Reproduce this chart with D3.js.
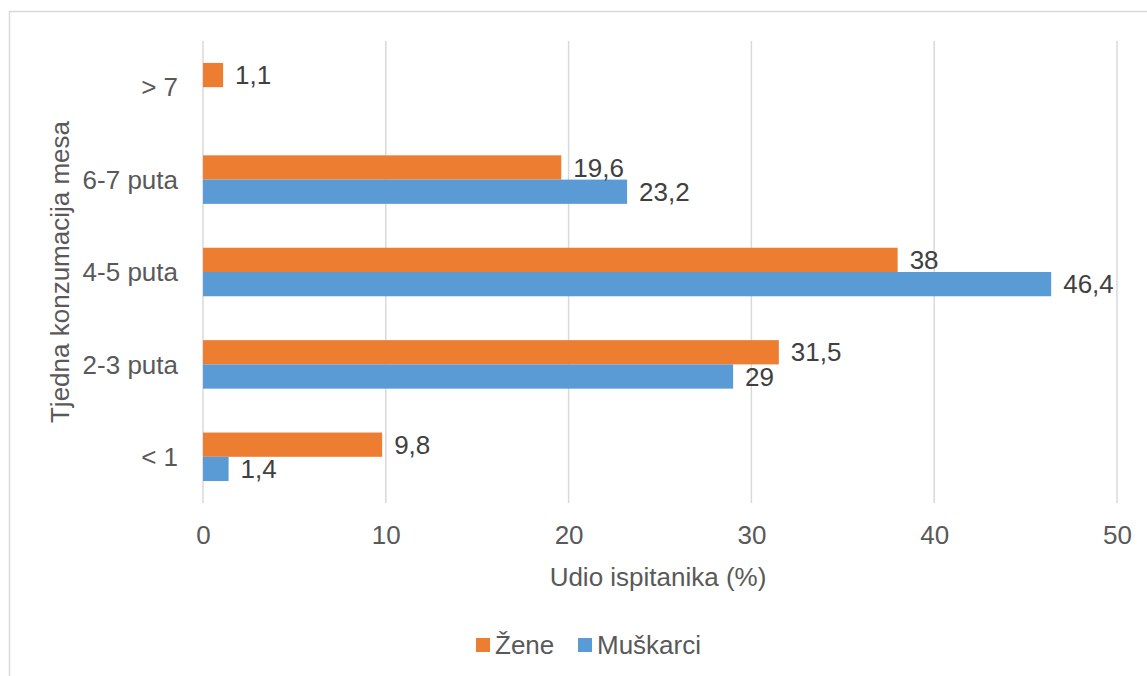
<!DOCTYPE html>
<html><head><meta charset="utf-8">
<script src="https://cdn.jsdelivr.net/npm/d3@7"></script>
<style>body{margin:0;background:#fff;}svg{display:block;font-family:"Liberation Sans",Arial,sans-serif;}</style>
</head><body>
<svg id="c" width="1147" height="676"></svg>
<script>
const categories = ["> 7", "6-7 puta", "4-5 puta", "2-3 puta", "< 1"];
const zene = [1.1, 19.6, 38, 31.5, 9.8];
const muskarci = [null, 23.2, 46.4, 29, 1.4];
const seriesNames = ["Žene", "Muškarci"];
const seriesColors = ["#ED7D31", "#5B9BD5"];
const xTicks = [0, 10, 20, 30, 40, 50];
const xTitle = "Udio ispitanika (%)";
const yTitle = "Tjedna konzumacija mesa";

const svg = d3.select("#c");
const FS = 26;
svg.append("rect").attr("x", 9.5).attr("y", 11.5).attr("width", 1160).attr("height", 700)
  .attr("fill", "#fff").attr("stroke", "#D9D9D9").attr("stroke-width", 1.5);

const L = 203, R = 1117, T = 41, B = 503;
const x = d3.scaleLinear().domain([0, 50]).range([L, R]);
const y = d3.scaleBand().domain(categories).range([T, B]).paddingInner(0.475).paddingOuter(0.2375);
const sub = d3.scaleBand().domain(seriesNames).range([0, y.bandwidth()]);

// gridlines
svg.append("g").selectAll("line").data(xTicks).join("line")
  .attr("x1", d => x(d)).attr("x2", d => x(d)).attr("y1", T).attr("y2", B)
  .attr("stroke", "#D9D9D9").attr("stroke-width", 1.5);

// x tick labels
const xAxis = d3.axisBottom(x).tickValues(xTicks).tickSize(0).tickPadding(0).tickFormat(d => d);
const gx = svg.append("g").attr("transform", `translate(0,${B})`).call(xAxis);
gx.select(".domain").remove();
gx.selectAll("text").attr("font-size", FS).attr("fill", "#595959").attr("dy", null)
  .attr("y", 34).attr("dominant-baseline", "middle").attr("font-family", "Liberation Sans, Arial, sans-serif");

// y axis labels
const yAxis = d3.axisLeft(y).tickSize(0).tickPadding(0);
const gy = svg.append("g").attr("transform", `translate(${178},0)`).call(yAxis);
gy.select(".domain").remove();
gy.selectAll("text").attr("font-size", FS).attr("fill", "#595959").attr("x", 0).attr("dy", "0.35em")
  .attr("font-family", "Liberation Sans, Arial, sans-serif");

const data = [];
categories.forEach((c, i) => {
  [zene[i], muskarci[i]].forEach((v, j) => {
    if (v !== null) data.push({cat: c, s: seriesNames[j], v, color: seriesColors[j]});
  });
});

svg.append("g").selectAll("rect").data(data).join("rect")
  .attr("x", x(0)).attr("y", d => y(d.cat) + sub(d.s))
  .attr("width", d => x(d.v) - x(0)).attr("height", sub.bandwidth())
  .attr("fill", d => d.color);

svg.append("g").selectAll("text").data(data).join("text")
  .attr("x", d => x(d.v) + 12).attr("y", d => y(d.cat) + sub(d.s) + sub.bandwidth() / 2)
  .attr("dy", "0.35em").attr("font-size", FS).attr("fill", "#404040")
  .text(d => String(d.v).replace(".", ","));

// axis titles
svg.append("text").attr("x", (L + R) / 2 - 2).attr("y", 577).attr("dy", "0.35em")
  .attr("text-anchor", "middle").attr("font-size", FS).attr("fill", "#595959").text(xTitle);
svg.append("text").attr("transform", `translate(60,${(T + B) / 2}) rotate(-90)`).attr("dy", "0.35em")
  .attr("text-anchor", "middle").attr("font-size", FS).attr("fill", "#595959").text(yTitle);

// legend
const leg = svg.append("g");
const legX = [476, 578];
seriesNames.forEach((n, i) => {
  leg.append("rect").attr("x", legX[i]).attr("y", 638).attr("width", 14).attr("height", 14).attr("fill", seriesColors[i]);
  leg.append("text").attr("x", legX[i] + 19).attr("y", 645).attr("dy", "0.35em")
    .attr("font-size", FS).attr("fill", "#595959").text(n);
});
</script>
</body></html>
